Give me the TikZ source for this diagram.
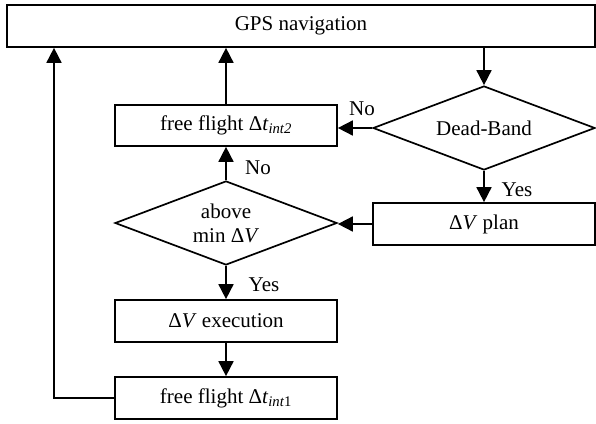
\documentclass[tikz,border=0pt]{standalone}
\usepackage{fontspec}
\setmainfont{Liberation Serif}
\usetikzlibrary{shapes.geometric,arrows.meta}
\begin{document}
\begin{tikzpicture}[x=1pt,y=-1pt,
  font=\fontsize{21}{24}\selectfont,
  every path/.style={line width=1.7pt},
  procbox/.style={draw,rectangle,minimum width=222pt,minimum height=42pt,inner sep=0pt},
  decbox/.style={draw,diamond,aspect=2.64,minimum width=222pt,minimum height=84pt,inner sep=0pt,align=center},
  arr/.style={-{Triangle[length=15pt,width=15pt]}},
  lbl/.style={inner sep=0pt}]
\useasboundingbox (0,0) rectangle (596,423);
\node[procbox,minimum width=588pt] (gps) at (301,26) {GPS navigation};
\node[procbox,minimum height=41pt] (ff2) at (226,125.5) {free flight Δ\textit{t}\textsubscript{\textit{int2}}};
\node[decbox] (db) at (484,128) {Dead-Band};
\node[procbox] (plan) at (484,224) {Δ\textit{V} plan};
\node[decbox] (amin) at (226,223) {above\\min Δ\textit{V}};
\node[procbox] (exec) at (226,321) {Δ\textit{V} execution};
\node[procbox] (ff1) at (226,398) {free flight Δ\textit{t}\textsubscript{\textit{int}1}};
\coordinate (lft) at (54,0);
\draw[arr] (db.north |- gps.south) -- (db.north);
\draw[arr] (db.west) -- (db.west -| ff2.east);
\draw[arr] (ff2.north) -- (ff2.north |- gps.south);
\draw[arr] (db.south) -- (plan.north);
\draw[arr] (plan.west) -- (plan.west -| amin.east);
\draw[arr] (amin.north) -- (ff2.south);
\draw[arr] (amin.south) -- (exec.north);
\draw[arr] (exec.south) -- (ff1.north);
\draw[arr] (ff1.west) -| (lft |- gps.south);
\node[lbl] (no1) at (362,109) {No};
\node[lbl] (yes1) at (517,190) {Yes};
\node[lbl] (no2) at (258,168) {No};
\node[lbl] (yes2) at (264,285) {Yes};
\end{tikzpicture}
\end{document}
